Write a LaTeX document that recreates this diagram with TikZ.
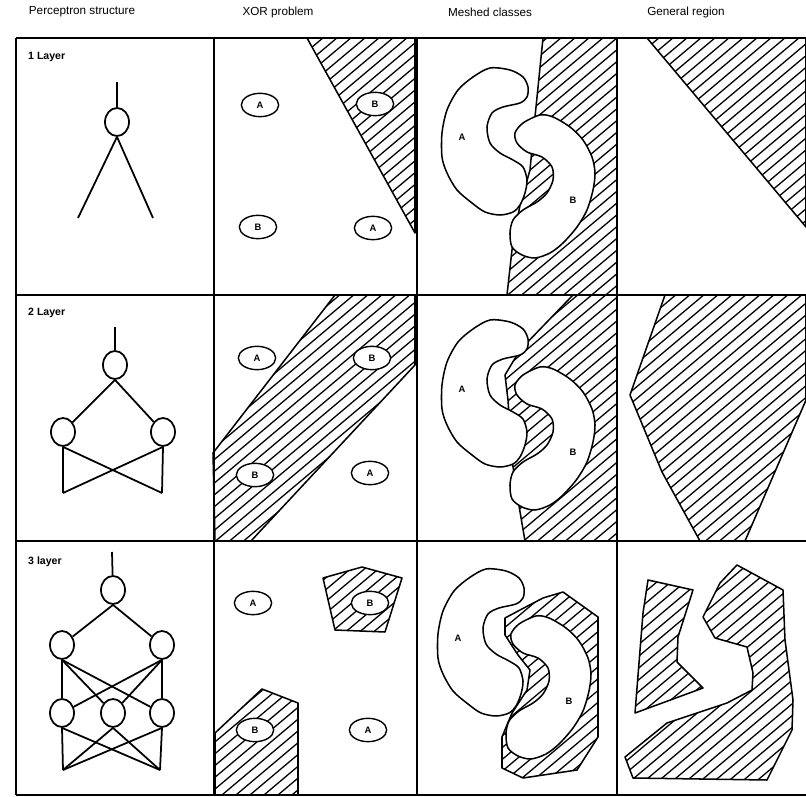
\documentclass[tikz,border=0pt]{standalone}
\usepackage{fontspec}
\setmainfont{Liberation Sans}
\usetikzlibrary{shapes.geometric}

% hatched area: clip, fill with slanted lines, then outline
\newcommand\hatchpoly[1]{%
  \begin{scope}
    \clip #1;
    \foreach \k in {-960,-946,...,810}
      \draw[hatch] (\k,800) -- ++(950,-800);
  \end{scope}
  \draw[rim] #1;}

% the two meshed classes (row 1 position)
\def\kidA{plot[smooth cycle] coordinates {(490,68) (510,70) (523,77) (528,87) (527,97) (520,103) (503,107) (492,113) (487,127) (490,143) (500,153) (513,160) (523,167) (527,180) (525,193) (520,205) (513,212) (500,215) (485,212) (472,203) (457,190) (447,173) (442,157) (442,133) (447,110) (458,90) (473,77)}}
\def\kidB{plot[smooth cycle] coordinates {(540,115) (553,117) (570,127) (583,140) (592,157) (595,173) (593,190) (587,210) (577,227) (563,243) (550,253) (535,258) (522,255) (512,247) (510,233) (513,220) (523,210) (537,202) (547,193) (553,180) (552,167) (542,157) (527,152) (517,143) (515,133) (523,123)}}

\begin{document}
\begin{tikzpicture}[x=0.03cm,y=-0.03cm,
    wire/.style={line width=1.5pt},
    neuron/.style={draw,ellipse,line width=1.5pt,minimum width=0.72cm,minimum height=0.84cm,inner sep=0pt},
    cls/.style={draw,ellipse,fill=white,line width=1.2pt,minimum width=1.12cm,minimum height=0.7cm,inner sep=0pt,font=\footnotesize\bfseries},
    blob/.style={draw,fill=white,line width=1.3pt},
    hatch/.style={line width=1.1pt},
    rim/.style={line width=1.3pt,line join=round},
    grid/.style={line width=1.7pt},
    head/.style={font=\normalsize},
    tag/.style={font=\small\bfseries,anchor=west,inner sep=0pt}]
  \useasboundingbox (0,0) rectangle (806,797);

  % column heads
  \node[head] (hp) at (82,12) {Perceptron structure};
  \node[head] (hx) at (278,12) {XOR problem};
  \node[head] (hm) at (490,12) {Meshed classes};
  \node[head] (hg) at (686,12) {General region};

  % ---- perceptron structure ----
  \node[tag] (n1) at (28,57) {1 Layer};
  \node[tag] (n2) at (28,313) {2 Layer};
  \node[tag] (n3) at (28,562) {3 layer};

  \node[neuron] (o1) at (117,122) {};
  \coordinate (t1) at (117,82);
  \coordinate (a1) at (78,218);
  \coordinate (b1) at (153,218);
  \draw[wire] (t1) -- (o1);
  \foreach \m in {a1,b1} \draw[wire] (o1.south) -- (\m);

  \node[neuron] (o2) at (115,365) {};
  \node[neuron] (l2) at (63,432) {};
  \node[neuron] (r2) at (163,432) {};
  \coordinate (t2) at (115,327);
  \coordinate (a2) at (63,493);
  \coordinate (b2) at (162,493);
  \draw[wire] (t2) -- (o2);
  \foreach \n in {l2,r2} \draw[wire] (o2.south) -- (\n);
  \foreach \n in {l2,r2} \foreach \m in {a2,b2} \draw[wire] (\n.south) -- (\m);

  \node[neuron] (o3) at (113,590) {};
  \node[neuron] (l3) at (62,645) {};
  \node[neuron] (r3) at (162,645) {};
  \node[neuron] (p3) at (62,713) {};
  \node[neuron] (q3) at (113,713) {};
  \node[neuron] (s3) at (162,713) {};
  \coordinate (t3) at (112,552);
  \coordinate (a3) at (63,770);
  \coordinate (b3) at (160,770);
  \draw[wire] (t3) -- (o3);
  \foreach \n in {l3,r3} \draw[wire] (o3.south) -- (\n);
  \foreach \n in {l3,r3} \foreach \m in {p3,q3,s3} \draw[wire] (\n.south) -- (\m);
  \foreach \n in {p3,q3,s3} \foreach \m in {a3,b3} \draw[wire] (\n.south) -- (\m);

  % ---- XOR problem ----
  \hatchpoly{(307,38)--(415,38)--(415,233)--cycle}
  \node[cls] (xa1) at (260,105) {A};
  \node[cls] (xb1) at (375,104) {B};
  \node[cls] (xc1) at (258,227) {B};
  \node[cls] (xd1) at (373,228) {A};

  \hatchpoly{(213,453)--(335,295)--(415,295)--(415,365)--(251,541)--(215,541)--cycle}
  \node[cls] (xa2) at (257,358) {A};
  \node[cls] (xb2) at (372,358) {B};
  \node[cls] (xc2) at (255,475) {B};
  \node[cls] (xd2) at (370,473) {A};

  \hatchpoly{(323,578)--(362,567)--(402,578)--(385,632)--(335,630)--cycle}
  \hatchpoly{(215,733)--(262,689)--(298,703)--(298,795)--(215,795)--cycle}
  \node[cls] (xa3) at (253,603) {A};
  \node[cls] (xb3) at (370,603) {B};
  \node[cls] (xc3) at (255,730) {B};
  \node[cls] (xd3) at (368,730) {A};

  % ---- meshed classes ----
  \hatchpoly{(543,38)--(617,38)--(617,295)--(507,295)--(512,250)--(520,205)--(530,170)--(535,117)--cycle}
  \hatchpoly{(573,295)--(617,295)--(617,541)--(525,541)--(518,500)--(512,460)--(508,400)--(505,375)--(520,350)--cycle}
  \hatchpoly{(543,598)--(563,592)--(598,617)--(598,737)--(577,770)--(523,778)--(502,768)--(502,737)--(512,713)--(527,690)--(530,670)--(518,655)--(505,635)--(505,618)--(520,610)--cycle}
  \foreach \dx/\dy/\r in {0/0/1,0/252/2,-4/501/3}{
    \begin{scope}[shift={(\dx,\dy)}]
      \draw[blob] \kidA;
      \draw[blob] \kidB;
      \node[font=\footnotesize\bfseries] (ma\r) at (462,137) {A};
      \node[font=\footnotesize\bfseries] (mb\r) at (573,200) {B};
    \end{scope}}

  % ---- general region ----
  \hatchpoly{(647,38)--(806,38)--(806,227)--cycle}
  \hatchpoly{(665,295)--(806,295)--(806,400)--(745,541)--(700,541)--(662,472)--(630,395)--cycle}
  \hatchpoly{(648,580)--(693,590)--(678,637)--(677,662)--(703,688)--(635,713)--(643,613)--cycle}
  \hatchpoly{(737,565)--(783,590)--(785,640)--(793,700)--(792,730)--(767,780)--(633,778)--(625,757)--(667,723)--(727,703)--(752,690)--(753,673)--(747,647)--(715,638)--(703,617)--(720,583)--cycle}

  % ---- table ----
  \foreach \y in {38,295,541,795} \draw[grid] (16,\y) -- (806,\y);
  \foreach \x in {16,214,417,617} \draw[grid] (\x,38) -- (\x,795);
\end{tikzpicture}
\end{document}
